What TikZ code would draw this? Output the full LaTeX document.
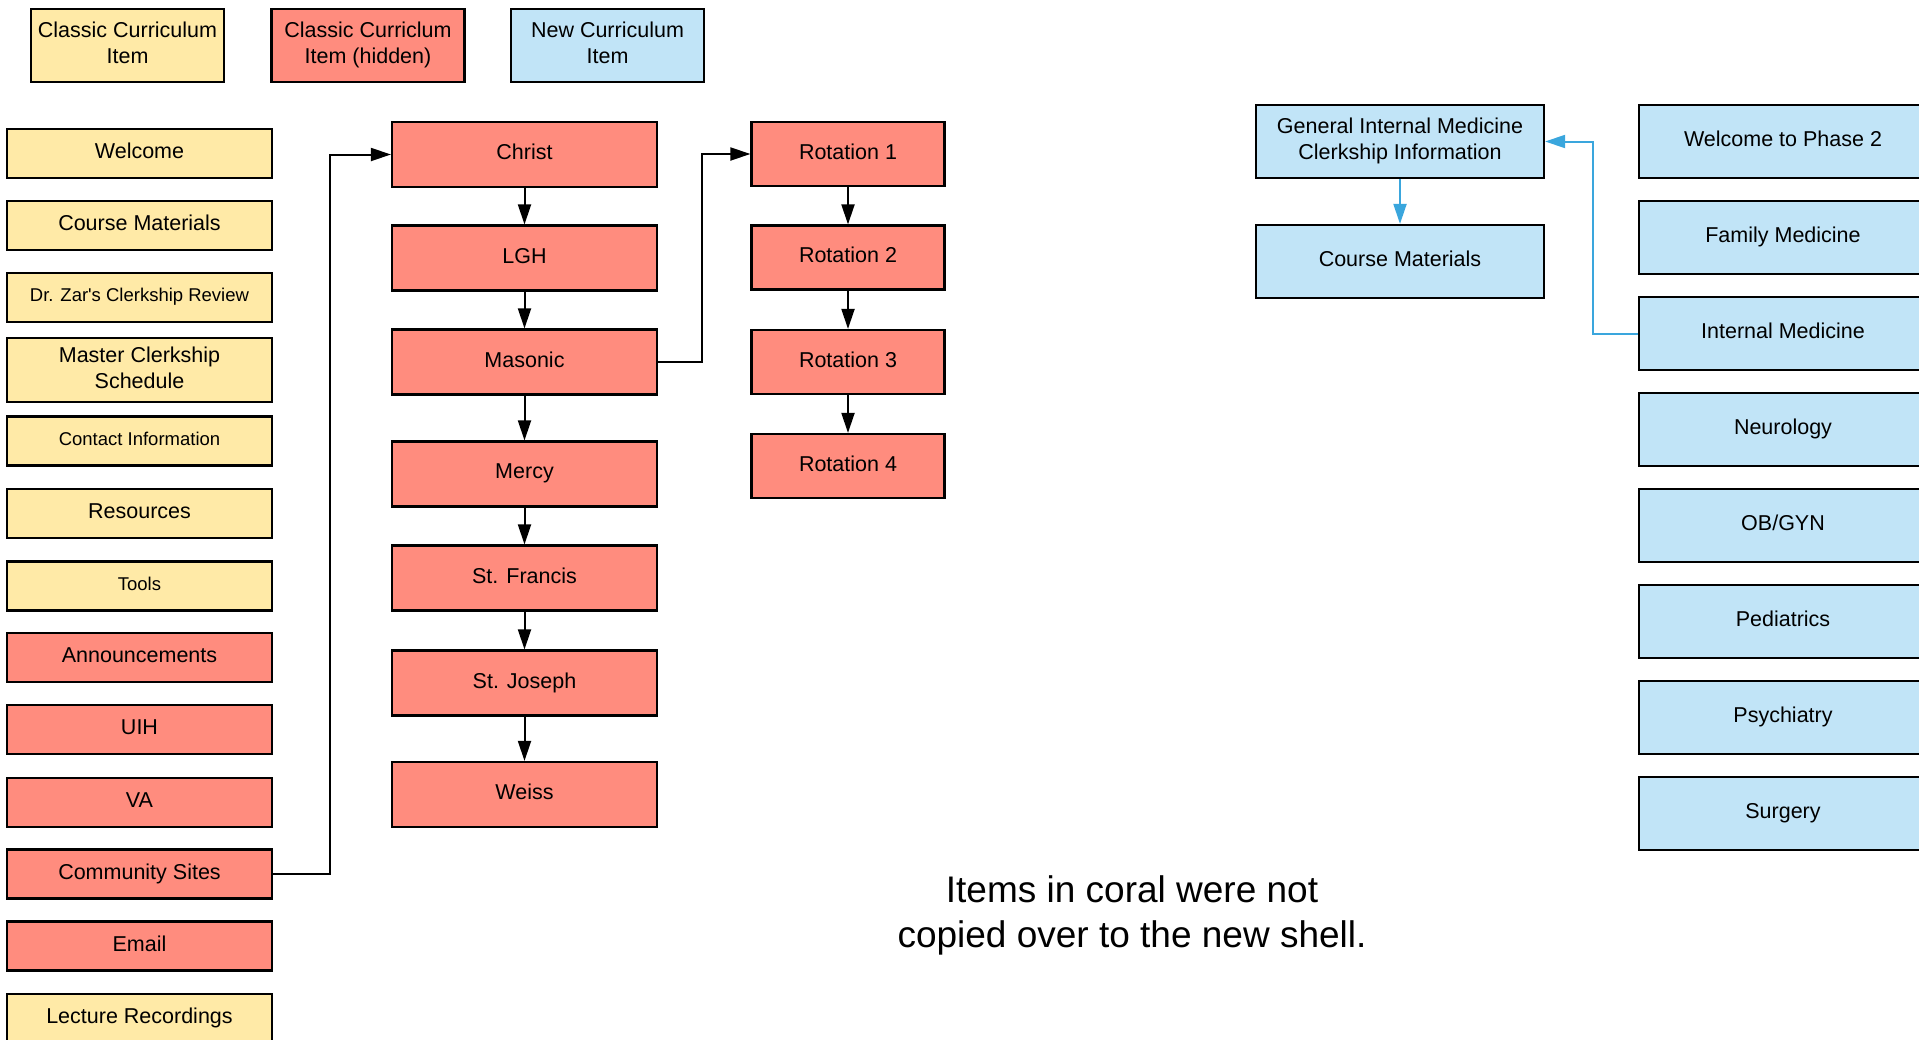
\documentclass[tikz,border=0pt]{standalone}
\usepackage{fontspec}
\setmainfont{Liberation Sans}
\usetikzlibrary{arrows.meta}
\definecolor{cyellow}{HTML}{FFEAA7}
\definecolor{ccoral}{HTML}{FF8C7E}
\definecolor{cblue}{HTML}{C1E4F7}
\definecolor{cline}{HTML}{3AA6DD}
\tikzset{
  box/.style={draw=black, line width=2.2pt, inner sep=0pt, align=center, font=\fontsize{21.5}{25.8}\selectfont, execute at end node={\rule[-5pt]{0pt}{0pt}}},
  ybox/.style={box, fill=cyellow},
  cbox/.style={box, fill=ccoral},
  bbox/.style={box, fill=cblue},
  smalltext/.style={font=\fontsize{18.5}{22}\selectfont},
  legend/.style={minimum width=193pt, minimum height=73pt},
  lcol/.style={minimum width=265pt, minimum height=49pt},
  mcol/.style={minimum width=265pt, minimum height=65pt},
  rotbox/.style={minimum width=193pt, minimum height=64pt},
  wide/.style={minimum width=288pt, minimum height=73pt},
  arr/.style={line width=2pt, draw=black, -{Triangle[length=20pt,width=13pt]}},
  barr/.style={arr, draw=cline},
}
\begin{document}
\begin{tikzpicture}[x=1pt,y=-1pt]
\useasboundingbox (0,0) rectangle (1919,1039);
\clip (0,0) rectangle (1919,1039);
% legend
\node[ybox, legend] (lg1) at (127.5,45.5) {Classic Curriculum\\Item};
\node[cbox, legend] (lg2) at (368,45.5) {Classic Curriclum\\Item (hidden)};
\node[bbox, legend] (lg3) at (607.5,45.5) {New Curriculum\\Item};
% left column
\node[ybox, lcol] (welcome) at (139.5,153.5) {Welcome};
\node[ybox, lcol] (coursemat) at (139.5,225.5) {Course Materials};
\node[ybox, lcol, smalltext] (drzar) at (139.5,297.5) {Dr. Zar\textquotesingle s Clerkship Review};
\node[ybox, lcol, minimum height=64pt] (master) at (139.5,370) {Master Clerkship\\Schedule};
\node[ybox, lcol, smalltext] (contact) at (139.5,441) {Contact Information};
\node[ybox, lcol] (resources) at (139.5,513.5) {Resources};
\node[ybox, lcol, smalltext] (tools) at (139.5,586) {Tools};
\node[cbox, lcol] (announce) at (139.5,657.5) {Announcements};
\node[cbox, lcol] (uih) at (139.5,729.5) {UIH};
\node[cbox, lcol] (va) at (139.5,802.5) {VA};
\node[cbox, lcol] (community) at (139.5,874) {Community Sites};
\node[cbox, lcol] (email) at (139.5,946) {Email};
\node[ybox, lcol] (lecture) at (139.5,1018.5) {Lecture Recordings};
% middle column
\node[cbox, mcol] (christ) at (524.5,154.5) {Christ};
\node[cbox, mcol] (lgh) at (524.5,258) {LGH};
\node[cbox, mcol] (masonic) at (524.5,362) {Masonic};
\node[cbox, mcol] (mercy) at (524.5,474) {Mercy};
\node[cbox, mcol] (francis) at (524.5,578) {St. Francis};
\node[cbox, mcol] (joseph) at (524.5,683) {St. Joseph};
\node[cbox, mcol] (weiss) at (524.5,794.5) {Weiss};
% rotations
\node[cbox, rotbox] (rot1) at (848,154) {Rotation 1};
\node[cbox, rotbox] (rot2) at (848,257.5) {Rotation 2};
\node[cbox, rotbox] (rot3) at (848,362) {Rotation 3};
\node[cbox, rotbox] (rot4) at (848,466) {Rotation 4};
% new curriculum
\node[bbox, wide] (gim) at (1400,141.5) {General Internal Medicine\\Clerkship Information};
\node[bbox, wide] (coursemat2) at (1400,261.5) {Course Materials};
\node[bbox, wide] (phase2) at (1783,141.5) {Welcome to Phase 2};
\node[bbox, wide] (family) at (1783,237.5) {Family Medicine};
\node[bbox, wide] (internal) at (1783,333.5) {Internal Medicine};
\node[bbox, wide] (neuro) at (1783,429.5) {Neurology};
\node[bbox, wide] (obgyn) at (1783,525.5) {OB/GYN};
\node[bbox, wide] (peds) at (1783,621.5) {Pediatrics};
\node[bbox, wide] (psych) at (1783,717.5) {Psychiatry};
\node[bbox, wide] (surgery) at (1783,813.5) {Surgery};
% note
\node[align=center, inner sep=0pt, font=\fontsize{37}{44.5}\selectfont] (note) at (1132,915.5) {Items in coral were not\\copied over to the new shell.};
% connectors
\draw[arr] (community.east) -| ([xshift=-60.5pt]christ.west) -- (christ.west);
\draw[arr] (masonic.east) -| ([xshift=-48pt]rot1.west) -- (rot1.west);
\draw[arr] (christ.south) -- (lgh.north);
\draw[arr] (lgh.south) -- (masonic.north);
\draw[arr] (masonic.south) -- (mercy.north);
\draw[arr] (mercy.south) -- (francis.north);
\draw[arr] (francis.south) -- (joseph.north);
\draw[arr] (joseph.south) -- (weiss.north);
\draw[arr] (rot1.south) -- (rot2.north);
\draw[arr] (rot2.south) -- (rot3.north);
\draw[arr] (rot3.south) -- (rot4.north);
\draw[barr] (internal.west) -| ([xshift=47.5pt]gim.east) -- (gim.east);
\draw[barr] (gim.south) -- (coursemat2.north);
\end{tikzpicture}
\end{document}
